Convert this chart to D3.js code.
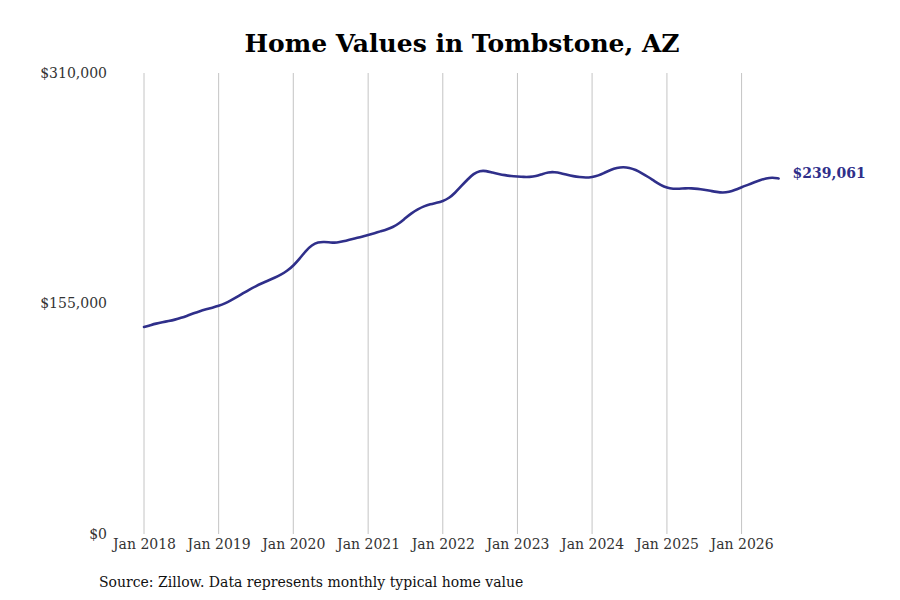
<!DOCTYPE html>
<html>
<head>
<meta charset="utf-8">
<script src="https://cdn.jsdelivr.net/npm/d3@7"></script>
<style>
  body { margin: 0; background: #fff; }
  svg { display: block; }
</style>
</head>
<body>
<svg id="chart" width="900" height="600"></svg>
<script>
const title = "Home Values in Tombstone, AZ";
const source = "Source: Zillow. Data represents monthly typical home value";
const startYear = 2018;
const startMonth = 0; // January
const values = [
  // 2018
  139200, 140400, 141500, 142400, 143200, 144100, 145300, 146800, 148400, 149900, 151100, 152200,
  // 2019
  153400, 155000, 157000, 159400, 161900, 164400, 166600, 168600, 170500, 172300, 174300, 176800,
  // 2020
  180400, 185100, 190300, 194300, 196300, 196500, 196000, 195800, 196800, 197800, 198900, 199900,
  // 2021
  201100, 202300, 203500, 204700, 206300, 208800, 212300, 215700, 218400, 220400, 221800, 222700,
  // 2022
  223800, 225900, 229300, 233900, 238300, 242300, 244300, 244200, 243000, 242100, 241300, 240700,
  // 2023
  240400, 240100, 240100, 240500, 242000, 243300, 243400, 242700, 241500, 240600, 240000, 239600,
  // 2024
  240000, 241000, 242900, 244800, 246200, 246800, 246300, 244900, 242600, 240100, 237300, 234700,
  // 2025
  232700, 232100, 232100, 232500, 232500, 232100, 231500, 230800, 230000, 229500, 230000, 231400,
  // 2026
  233200, 234800, 236300, 237900, 239200, 239700, 239061
];
const yTicks = [0, 155000, 310000];
const xTickYears = [2018, 2019, 2020, 2021, 2022, 2023, 2024, 2025, 2026];
const lineColor = "#2f2f8a";

const data = values.map((v, i) => ({ date: new Date(startYear, startMonth + i, 1), value: v }));

const svg = d3.select("#chart");

const x = d3.scaleTime()
  .domain([new Date(2018, 0, 1), new Date(2026, 6, 1)])
  .range([144, 778.6]);
const y = d3.scaleLinear().domain([0, 310000]).range([534, 73]);

const font = "'DejaVu Serif', serif";

// vertical gridlines
svg.append("g")
  .selectAll("line")
  .data(xTickYears)
  .join("line")
  .attr("x1", d => x(new Date(d, 0, 1)))
  .attr("x2", d => x(new Date(d, 0, 1)))
  .attr("y1", y(310000))
  .attr("y2", y(0))
  .attr("stroke", "#c4c4c4")
  .attr("stroke-width", 1);

// x axis labels
const xAxis = d3.axisBottom(x)
  .tickValues(xTickYears.map(d => new Date(d, 0, 1)))
  .tickFormat(d3.timeFormat("Jan %Y"))
  .tickSize(0)
  .tickPadding(5);
const gx = svg.append("g").attr("transform", `translate(0,${y(0)})`).call(xAxis);
gx.select(".domain").remove();
gx.selectAll("text").attr("font-family", font).attr("font-size", 14).attr("fill", "#333");

// y axis labels
const yAxis = d3.axisLeft(y)
  .tickValues(yTicks)
  .tickFormat(d => "$" + d3.format(",")(d))
  .tickSize(0)
  .tickPadding(0);
const gy = svg.append("g").attr("transform", `translate(107,0)`).call(yAxis);
gy.select(".domain").remove();
gy.selectAll("text").attr("font-family", font).attr("font-size", 14).attr("fill", "#333");

// line
const line = d3.line()
  .x(d => x(d.date))
  .y(d => y(d.value))
  .curve(d3.curveBasis);
svg.append("path")
  .datum(data)
  .attr("d", line)
  .attr("fill", "none")
  .attr("stroke", lineColor)
  .attr("stroke-width", 2.6)
  .attr("stroke-linejoin", "round")
  .attr("stroke-linecap", "round");

// end label
const last = data[data.length - 1];
svg.append("text")
  .attr("x", x(last.date) + 14)
  .attr("y", y(last.value) - 5)
  .attr("dy", "0.35em")
  .attr("font-family", font)
  .attr("font-weight", "bold")
  .attr("font-size", 14)
  .attr("fill", lineColor)
  .text("$" + d3.format(",")(last.value));

// title
svg.append("text")
  .attr("x", 462)
  .attr("y", 52)
  .attr("text-anchor", "middle")
  .attr("font-family", font)
  .attr("font-weight", "bold")
  .attr("font-size", 25)
  .attr("fill", "#000")
  .text(title);

// source
svg.append("text")
  .attr("x", 99)
  .attr("y", 587)
  .attr("font-family", font)
  .attr("font-size", 14)
  .attr("fill", "#111")
  .text(source);
</script>
</body>
</html>
